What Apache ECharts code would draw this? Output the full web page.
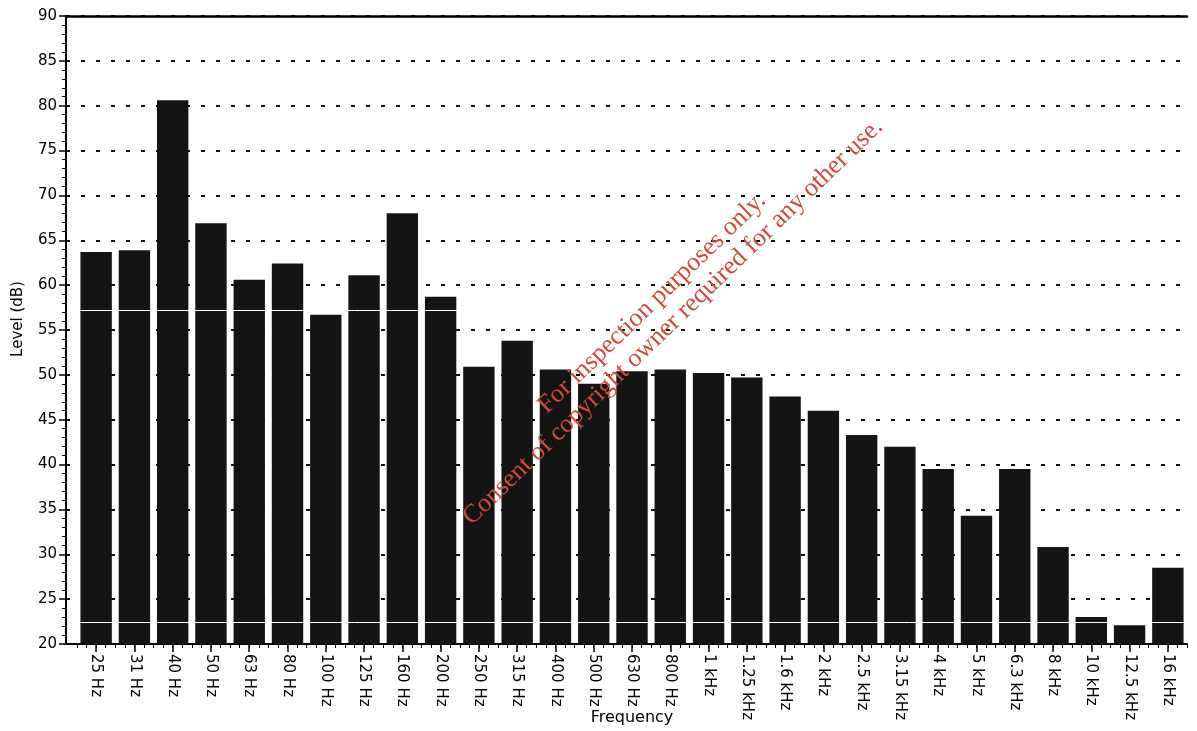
<!DOCTYPE html>
<html>
<head>
    <meta charset="UTF-8">
    <title>Level (dB) by Frequency</title>
    <script src="https://cdn.jsdelivr.net/npm/echarts@6/dist/echarts.min.js"></script>
    <style>
      html, body { margin: 0; padding: 0; background: #fff; }
      #container { width: 1197px; height: 731px; }
    </style>
</head>
<body>
<div id="container"></div>
<script>
    // third-octave bands
    var bands = ['25 Hz', '31 Hz', '40 Hz', '50 Hz', '63 Hz', '80 Hz', '100 Hz', '125 Hz', '160 Hz', '200 Hz',
        '250 Hz', '315 Hz', '400 Hz', '500 Hz', '630 Hz', '800 Hz', '1 kHz', '1.25 kHz', '1.6 kHz', '2 kHz',
        '2.5 kHz', '3.15 kHz', '4 kHz', '5 kHz', '6.3 kHz', '8 kHz', '10 kHz', '12.5 kHz', '16 kHz']
    // level in dB
    var levels = [63.7, 63.9, 80.6, 66.9, 60.6, 62.4, 56.7, 61.1, 68.0, 58.7,
        50.9, 53.8, 50.6, 49.0, 50.4, 50.6, 50.2, 49.7, 47.6, 46.0,
        43.3, 42.0, 39.5, 34.3, 39.5, 30.8, 23.0, 22.1, 28.5]
    var yTicks = [20, 90, 5]   // min, max, step
    var whiteLines = [22.4, 57.2]  // scanner streaks across the bars

    var watermark = ['For inspection purposes only.', 'Consent of copyright owner required for any other use.']

    var dom = document.getElementById('container')
    var myChart = echarts.init(dom, null, {renderer: 'canvas'})

    var axisFont = 'DejaVu Sans'
    var ang = 44 * Math.PI / 180

    var option = {
        backgroundColor: '#FFFFFF',
        animation: false,
        grid: [
            {left: 66, right: 10, top: 16, bottom: 87, outerBoundsMode: 'none'},   // frame + y axis
            {left: 77, right: 10, top: 16, bottom: 87, outerBoundsMode: 'none'}    // bars
        ],
        xAxis: [
            {
                gridIndex: 0, type: 'value', min: 0, max: 1, position: 'bottom',
                axisLine: {show: true, lineStyle: {color: '#000', width: 2}},
                axisTick: {show: false}, axisLabel: {show: false}, splitLine: {show: false}
            },
            {
                gridIndex: 0, type: 'value', min: 0, max: 1, position: 'top',
                axisLine: {show: true, lineStyle: {color: '#000', width: 2.5}},
                axisTick: {show: false}, axisLabel: {show: false}, splitLine: {show: false}
            },
            {
                gridIndex: 1, type: 'category', data: bands, position: 'bottom',
                axisLine: {show: false},
                axisTick: {show: true, alignWithLabel: true, length: 8, lineStyle: {color: '#000', width: 1.5}},
                axisLabel: {
                    rotate: -90, interval: 0, margin: 10, color: '#000',
                    fontFamily: axisFont, fontSize: 15
                },
                name: 'Frequency', nameLocation: 'middle', nameGap: 66, nameMoveOverlap: false,
                nameTextStyle: {color: '#000', fontFamily: axisFont, fontSize: 16}
            },
            {
                // small ticks every quarter band
                gridIndex: 1, type: 'value', min: 0, max: 29, interval: 0.25, position: 'bottom',
                axisLine: {show: false},
                axisTick: {show: true, length: 4, lineStyle: {color: '#000', width: 1}},
                axisLabel: {show: false}, splitLine: {show: false}
            }
        ],
        yAxis: [
            {
                gridIndex: 0, type: 'value', min: yTicks[0], max: yTicks[1], interval: yTicks[2],
                axisLine: {show: true, lineStyle: {color: '#000', width: 2}},
                axisTick: {show: true, length: 7, lineStyle: {color: '#000', width: 1.5}},
                minorTick: {show: true, splitNumber: 5, length: 4, lineStyle: {color: '#000', width: 1}},
                axisLabel: {color: '#000', fontFamily: axisFont, fontSize: 15, margin: 9},
                splitLine: {show: true, lineStyle: {color: '#111', width: 2, type: [4, 11]}},
                name: 'Level (dB)', nameLocation: 'middle', nameGap: 40, nameRotate: 90, nameMoveOverlap: false,
                nameTextStyle: {color: '#000', fontFamily: axisFont, fontSize: 15, padding: [0, 0, 0, 22]}
            },
            {
                gridIndex: 1, type: 'value', min: yTicks[0], max: yTicks[1], interval: yTicks[2], show: false
            }
        ],
        series: [
            {
                type: 'bar',
                xAxisIndex: 2,
                yAxisIndex: 1,
                data: levels,
                barCategoryGap: '18%',
                itemStyle: {color: '#141414'},
                markLine: {
                    silent: true,
                    symbol: 'none',
                    label: {show: false},
                    lineStyle: {color: '#ffffff', width: 1, type: 'solid'},
                    data: whiteLines.map(function (v) { return {yAxis: v} })
                }
            }
        ],
        graphic: [
            {
                type: 'text', x: 652, y: 303, rotation: ang, z: 100,
                style: {
                    text: watermark[0], fill: '#cf4a38',
                    font: '26px "Liberation Serif"', align: 'center', verticalAlign: 'middle'
                }
            },
            {
                type: 'text', x: 673, y: 322, rotation: ang, z: 100,
                style: {
                    text: watermark[1], fill: '#cf4a38',
                    font: '26px "Liberation Serif"', align: 'center', verticalAlign: 'middle'
                }
            }
        ]
    }

    myChart.setOption(option, true)
</script>
</body>
</html>
